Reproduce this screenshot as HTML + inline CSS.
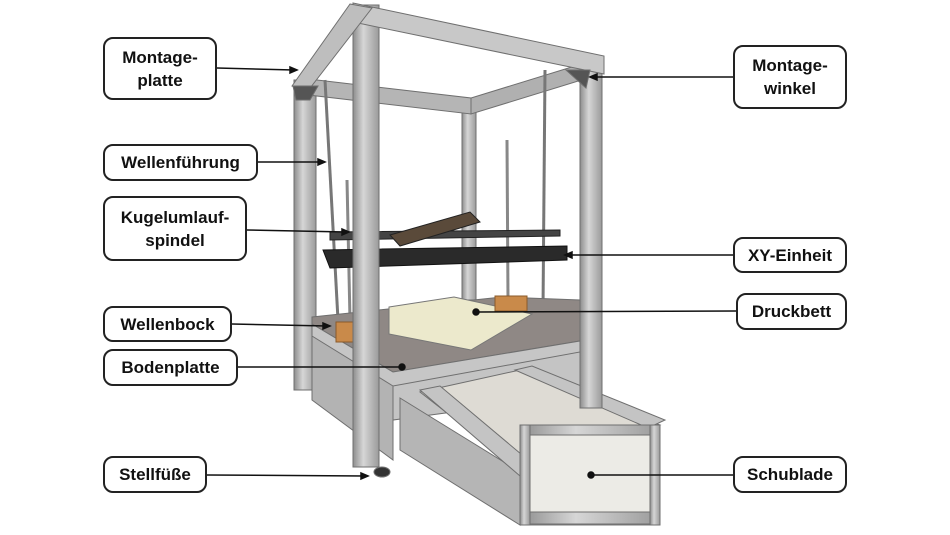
<!DOCTYPE html>
<html><head><meta charset="utf-8"><style>
html,body{margin:0;padding:0;background:#fff;}
body{width:950px;height:535px;position:relative;overflow:hidden;font-family:"Liberation Sans",Arial,sans-serif;}
.b{position:absolute;border:2px solid #222;border-radius:10px;background:#fff;box-sizing:border-box;display:flex;align-items:center;justify-content:center;text-align:center;font-weight:bold;font-size:17px;line-height:23px;color:#111;}
svg{position:absolute;left:0;top:0;}
</style></head><body>
<svg width="950" height="535" viewBox="0 0 950 535">
<defs>
<linearGradient id="al" x1="0" x2="1"><stop offset="0" stop-color="#8d8d8d"/><stop offset="0.4" stop-color="#d6d6d6"/><stop offset="1" stop-color="#9a9a9a"/></linearGradient>
</defs>
<g stroke="#6f6f6f" stroke-width="1">
<!-- back columns -->
<rect x="462" y="100" width="14" height="200" fill="url(#al)"/>
<rect x="294" y="80" width="22" height="310" fill="url(#al)"/>
<!-- back top beams -->
<polygon points="300,78 471,98 471,114 300,94" fill="#b5b5b5"/>
<polygon points="601,58 471,98 471,114 601,74" fill="#b0b0b0"/>
<!-- rods -->
<line x1="325" y1="80" x2="338" y2="320" stroke="#777" stroke-width="3"/>
<line x1="545" y1="70" x2="543" y2="310" stroke="#777" stroke-width="3"/>
<line x1="347" y1="180" x2="350" y2="320" stroke="#888" stroke-width="3"/>
<line x1="507" y1="140" x2="508" y2="300" stroke="#888" stroke-width="3"/>
<!-- XY unit -->
<polygon points="323,250 567,246 567,260 330,268" fill="#2a2a2a" stroke="#111"/>
<polygon points="330,232 560,230 560,236 330,240" fill="#444" stroke="#222"/>
<polygon points="390,235 470,212 480,222 400,246" fill="#5a4a3a" stroke="#222"/>
<!-- base lower frame -->
<polygon points="312,324 393,372 393,460 312,400" fill="#b3b3b3"/>
<polygon points="393,372 580,341 580,395 393,420" fill="#c4c4c4"/>
<!-- plate -->
<polygon points="312,317 502,297 580,300 580,341 393,372 312,324" fill="#8f8885"/>
<polygon points="312,324 393,372 580,341 580,352 393,386 312,336" fill="#c6c6c6"/>
<!-- bed -->
<polygon points="389,307 454,297 532,314 471,350 389,334" fill="#ece9cc" stroke="#777"/>
<rect x="336" y="322" width="22" height="20" fill="#c98a4a" stroke="#8a5a2a"/>
<rect x="495" y="296" width="32" height="15" fill="#c98a4a" stroke="#8a5a2a"/>
<!-- drawer -->
<polygon points="420,392 520,370 660,425 520,470" fill="#dedbd4"/>
<polygon points="400,398 520,472 520,525 400,450" fill="#b5b5b5"/>
<polygon points="420,390 440,386 540,470 520,476" fill="#c4c4c4"/>
<polygon points="515,370 532,366 665,420 648,428" fill="#c4c4c4"/>
<rect x="520" y="425" width="140" height="100" fill="#ecebe6" stroke="#777"/>
<rect x="520" y="425" width="140" height="10" fill="url(#al)"/>
<rect x="520" y="512" width="140" height="12" fill="url(#al)"/>
<rect x="520" y="425" width="10" height="100" fill="url(#al)"/>
<rect x="650" y="425" width="10" height="100" fill="url(#al)"/>
<!-- front columns -->
<rect x="580" y="58" width="22" height="350" fill="url(#al)"/>
<rect x="353" y="5" width="26" height="462" fill="url(#al)"/>
<!-- top beams front -->
<polygon points="353,3 604,56 604,74 353,22" fill="#c8c8c8"/>
<polygon points="350,4 372,8 307,92 292,86" fill="#bebebe"/>
<polygon points="293,86 318,86 310,100 296,100" fill="#555"/>
<polygon points="566,70 590,70 586,88" fill="#555"/>
<ellipse cx="382" cy="472" rx="8" ry="5" fill="#333"/>
</g>
<g stroke="#111" stroke-width="1.5" fill="#111">
<line x1="217" y1="68" x2="294" y2="70"/><polygon points="297,70 290,67 290,73"/>
<line x1="258" y1="162" x2="322" y2="162"/><polygon points="325,162 318,159 318,165"/>
<line x1="247" y1="230" x2="346" y2="232"/><polygon points="349,232 342,229 342,235"/>
<line x1="232" y1="324" x2="327" y2="326"/><polygon points="330,326 323,323 323,329"/>
<line x1="238" y1="367" x2="400" y2="367"/><circle cx="402" cy="367" r="3"/>
<line x1="207" y1="475" x2="365" y2="476"/><polygon points="368,476 361,473 361,479"/>
<line x1="733" y1="77" x2="593" y2="77"/><polygon points="590,77 597,74 597,80"/>
<line x1="733" y1="255" x2="568" y2="255"/><polygon points="565,255 572,252 572,258"/>
<line x1="736" y1="311" x2="478" y2="312"/><circle cx="476" cy="312" r="3"/>
<line x1="733" y1="475" x2="593" y2="475"/><circle cx="591" cy="475" r="3"/>
</g>
</svg>
<div class="b" style="left:103px;top:37px;width:114px;height:63px;">Montage-<br>platte</div>
<div class="b" style="left:103px;top:144px;width:155px;height:37px;">Wellenführung</div>
<div class="b" style="left:103px;top:196px;width:144px;height:65px;">Kugelumlauf-<br>spindel</div>
<div class="b" style="left:103px;top:306px;width:129px;height:36px;">Wellenbock</div>
<div class="b" style="left:103px;top:349px;width:135px;height:37px;">Bodenplatte</div>
<div class="b" style="left:103px;top:456px;width:104px;height:37px;">Stellfüße</div>
<div class="b" style="left:733px;top:45px;width:114px;height:64px;">Montage-<br>winkel</div>
<div class="b" style="left:733px;top:237px;width:114px;height:36px;">XY-Einheit</div>
<div class="b" style="left:736px;top:293px;width:111px;height:37px;">Druckbett</div>
<div class="b" style="left:733px;top:456px;width:114px;height:37px;">Schublade</div>
</body></html>
